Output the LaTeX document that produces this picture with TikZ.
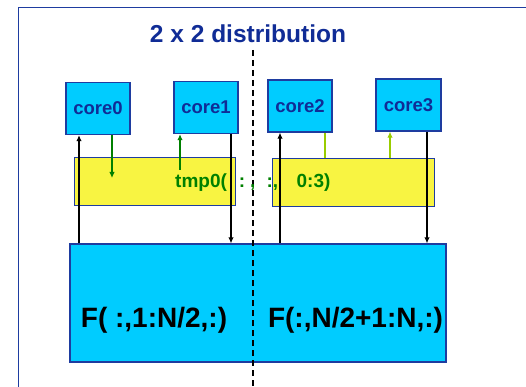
\documentclass[tikz,border=0pt]{standalone}
\usepackage{fontspec}
\setmainfont{Liberation Sans}
\usetikzlibrary{arrows.meta}
\definecolor{cyanfill}{RGB}{0,204,255}
\definecolor{boxline}{RGB}{30,60,160}
\definecolor{titleblue}{RGB}{16,44,150}
\definecolor{yellowfill}{RGB}{248,244,66}
\definecolor{darkgreen}{RGB}{0,128,0}
\definecolor{lightgreen}{RGB}{153,204,0}
\tikzset{
  corebox/.style={draw=boxline, fill=cyanfill, line width=1.3pt, minimum width=64pt, minimum height=52pt, inner sep=0pt, text=titleblue, font=\bfseries\fontsize{18.5}{20}\selectfont},
  tmpbox/.style={draw=boxline, fill=yellowfill, line width=0.9pt, minimum width=161pt, minimum height=48pt, inner sep=0pt},
  bigbox/.style={draw=boxline, fill=cyanfill, line width=1.3pt, minimum width=376pt, minimum height=118pt, inner sep=0pt},
  flabel/.style={font=\bfseries\fontsize{28}{30}\selectfont, inner sep=0pt, anchor=base},
  blk/.style={line width=2.6pt, -{Latex[length=6pt,width=5.5pt]}},
  dgreen/.style={darkgreen, line width=2.6pt, -{Latex[length=6pt,width=5.5pt]}},
  lgreen/.style={lightgreen, line width=2.6pt},
  lgreenarr/.style={lightgreen, line width=2.6pt, -{Latex[length=6pt,width=5.5pt]}},
  frame/.style={boxline, line width=1.8pt},
  divider/.style={line width=2pt, dash pattern=on 6pt off 4pt}
}
\begin{document}
\begin{tikzpicture}[x=1pt, y=-1pt]
\useasboundingbox[fill=white] (0,0) rectangle (526,387);
\draw[frame] (18.5,387) |- (526,7.5);
\node[flabel, text=titleblue, font=\bfseries\fontsize{24.5}{26}\selectfont] (title) at (248,43) {2 x 2 distribution};
\node[bigbox] (big) at (258,303) {};
\node[tmpbox] (y0) at (154.5,181) {};
\node[tmpbox, minimum width=162pt] (y1) at (353,182) {};
\node[corebox] (c0) at (98,108.5) {core0};
\node[corebox] (c1) at (206,107.5) {core1};
\node[corebox] (c2) at (300,106) {core2};
\node[corebox, minimum width=65pt] (c3) at (408.5,105) {core3};
% green arrows
\coordinate (g0) at (112,178);
\coordinate (g1) at (180,170);
\draw[dgreen] (c0.south -| g0) -- (g0);
\draw[dgreen] (g1) -- (c1.south -| g1);
\draw[lgreen] (y1.north -| 325,0) -- (c2.south -| 325,0);
\draw[lgreenarr] (y1.north -| 390,0) -- (c3.south -| 390,0);
% black arrows
\draw[blk] (big.north -| 79,0) -- (c0.south -| 79,0);
\draw[blk] (c1.south -| 231,0) -- (big.north -| 231,0);
\draw[blk] (big.north -| 280,0) -- (c2.south -| 280,0);
\draw[blk] (c3.south -| 427,0) -- (big.north -| 427,0);
% divider
\coordinate (dtop) at (253,50);
\coordinate (dbot) at (253,387);
\draw[divider] (dtop) -- (dbot);
% texts
\node[anchor=base west, inner sep=0pt, text=darkgreen, font=\bfseries\fontsize{19}{21}\selectfont] (tmp) at (175,187) {tmp0(\hspace{12pt}:\hspace{5pt},\hspace{11pt}:,\hspace{18.5pt}0:3)};
\node[flabel] (f1) at (154,327) {F( :,1:N/2,:)};
\node[flabel] (f2) at (355.5,327) {F(:,N/2+1:N,:)};
\end{tikzpicture}
\end{document}
